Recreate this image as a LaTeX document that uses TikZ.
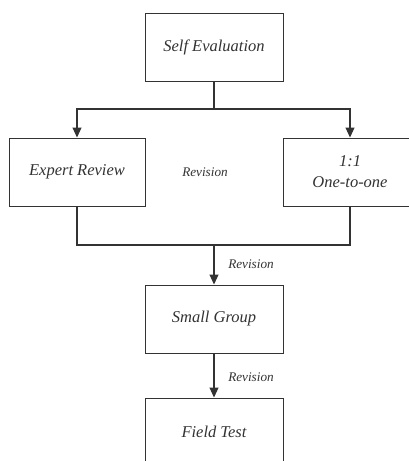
\documentclass[tikz,border=0pt]{standalone}
\usepackage{fontspec}
\setmainfont{Liberation Serif}
\usetikzlibrary{arrows.meta}
\definecolor{ink}{HTML}{333333}
\tikzset{
  box/.style={draw=ink, line width=1pt, minimum height=68pt, align=center, inner sep=0pt,
    font=\fontsize{16.5}{21}\selectfont\itshape, text=ink},
  conn/.style={draw=ink, line width=1.1pt},
  arr/.style={conn, -{Triangle[length=10pt,width=9pt]}},
  rev/.style={font=\fontsize{13.2}{15}\selectfont\itshape, text=ink, inner sep=0pt}
}
\begin{document}
\begin{tikzpicture}[x=1pt,y=-1pt]
\useasboundingbox (0,0) rectangle (409,461);
\clip (0,0) rectangle (409,461);
\fill[white] (0,0) rectangle (409,461);
\node[box, minimum width=138pt] (self) at (214,47) {Self Evaluation};
\node[box, minimum width=136pt] (expert) at (77,172) {Expert Review};
\node[box, minimum width=134pt] (one) at (350,172) {1:1\\One-to-one};
\node[box, minimum width=138pt] (small) at (214,319) {Small Group};
\node[box, minimum width=138pt] (field) at (214,432) {Field Test};
\coordinate (j1) at (214,109);
\coordinate (j2) at (214,245);
\draw[conn] (self.south) -- (j1);
\draw[arr] (j1) -| (expert.north);
\draw[arr] (j1) -| (one.north);
\draw[conn] (expert.south) |- (j2);
\draw[conn] (one.south) |- (j2);
\draw[arr] (j2) -- (small.north);
\draw[arr] (small.south) -- (field.north);
\node[rev] (r1) at (205,172) {Revision};
\node[rev] (r2) at (251,264) {Revision};
\node[rev] (r3) at (251,377) {Revision};
\end{tikzpicture}
\end{document}
